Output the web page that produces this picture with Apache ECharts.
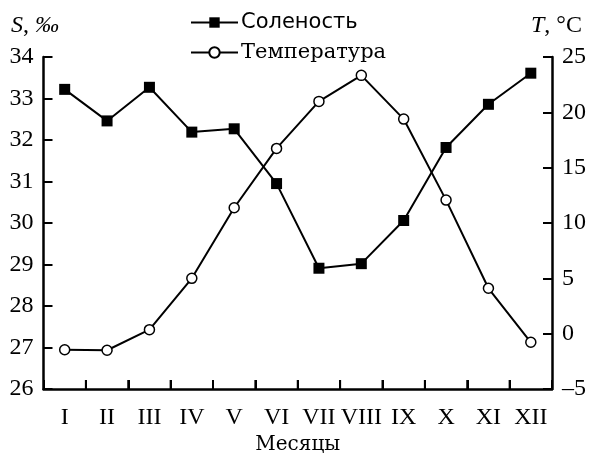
<!DOCTYPE html>
<html>
<head>
<meta charset="utf-8">
<script src="https://cdn.jsdelivr.net/npm/echarts@6/dist/echarts.min.js"></script>
<style>html,body{margin:0;padding:0;background:#fff}#c{width:594px;height:454px}</style>
</head>
<body>
<div id="c"></div>
<script>
const months = ['I','II','III','IV','V','VI','VII','VIII','IX','X','XI','XII'];
const salinity = [33.22, 32.46, 33.27, 32.19, 32.27, 30.95, 28.91, 29.02, 30.06, 31.82, 32.86, 33.61];
const temperature = [-1.45, -1.5, 0.36, 5.0, 11.38, 16.74, 20.99, 23.34, 19.39, 12.07, 4.1, -0.78];
const seriesNames = ['Соленость', 'Температура'];
const xTitle = 'Месяцы';

const serif = 'Liberation Serif';
const chart = echarts.init(document.getElementById('c'), null, {renderer: 'canvas'});
const titles = [
  {id: 'tS', type: 'text', left: 11, top: 14, style: {
    text: '{i|S}, {i|‰}', fill: '#000',
    rich: {i: {fontFamily: serif, fontStyle: 'italic', fontSize: 24}},
    fontFamily: serif, fontSize: 24}},
  {id: 'tT', type: 'text', left: 531, top: 14, style: {
    text: '{i|T}, °C', fill: '#000',
    rich: {i: {fontFamily: serif, fontStyle: 'italic', fontSize: 24}},
    fontFamily: serif, fontSize: 24}}
];
chart.setOption({
  animation: false,
  backgroundColor: '#fff',
  grid: {left: 43.5, right: 42, top: 57, bottom: 65, containLabel: false, outerBoundsMode: 'none'},
  legend: {
    orient: 'vertical', left: 185, top: 7, itemGap: 9,
    itemWidth: 47, itemHeight: 13,
    data: [
      {name: seriesNames[0], textStyle: {fontFamily: 'DejaVu Sans', fontSize: 21, color: '#000'}},
      {name: seriesNames[1], textStyle: {fontFamily: 'DejaVu Serif', fontSize: 21, color: '#000'}}
    ],
    textStyle: {color: '#000', padding: [0,0,0,-2]}
  },
  xAxis: [
    {
      type: 'category', data: months, boundaryGap: true, position: 'bottom',
      name: xTitle, nameLocation: 'middle', nameGap: 42,
      nameTextStyle: {fontFamily: 'DejaVu Serif', fontSize: 20, color: '#000'},
      axisLine: {show: true, onZero: false, lineStyle: {color: '#000', width: 2.5}},
      axisTick: {show: true, inside: true, length: 9, interval: 0, lineStyle: {color: '#000', width: 2}},
      axisLabel: {fontFamily: serif, fontSize: 24, color: '#000', margin: 17, interval: 0},
      splitLine: {show: false}
    },
    {
      type: 'value', min: 0, max: months.length, interval: 1, position: 'bottom',
      axisLine: {show: false, onZero: false},
      axisTick: {show: false},
      axisLabel: {show: false},
      splitLine: {show: false}
    }
  ],
  yAxis: [
    {
      type: 'value', min: 26, max: 34, interval: 1, position: 'left',
      axisLine: {show: true, lineStyle: {color: '#000', width: 2.5}},
      axisTick: {show: true, inside: true, length: 9, lineStyle: {color: '#000', width: 2}},
      axisLabel: {fontFamily: serif, fontSize: 24, color: '#000', margin: 10},
      splitLine: {show: false}
    },
    {
      type: 'value', min: -5, max: 25, interval: 5, position: 'right',
      axisLine: {show: true, lineStyle: {color: '#000', width: 2.5}},
      axisTick: {show: true, inside: true, length: 9, lineStyle: {color: '#000', width: 2}},
      axisLabel: {fontFamily: serif, fontSize: 24, color: '#000', margin: 10,
        formatter: v => String(v).replace('-', '–')},
      splitLine: {show: false}
    }
  ],
  graphic: titles,
  series: [
    {
      name: seriesNames[0], type: 'line', xAxisIndex: 0, yAxisIndex: 0, data: salinity,
      symbol: 'rect', symbolSize: 11,
      lineStyle: {color: '#000', width: 2},
      itemStyle: {color: '#000'}
    },
    {
      name: seriesNames[1], type: 'line', xAxisIndex: 0, yAxisIndex: 1, data: temperature,
      symbol: 'circle', symbolSize: 10,
      lineStyle: {color: '#000', width: 2},
      itemStyle: {color: '#fff', borderColor: '#000', borderWidth: 1.5}
    }
  ]
});
// month boundary ticks, positioned through the library's own scale
const tickEls = [];
const yBase = chart.convertToPixel({yAxisIndex: 0}, 26);
for (let i = 1; i < months.length; i++) {
  const x = chart.convertToPixel({xAxisIndex: 1}, i);
  tickEls.push({id: 'xt' + i, type: 'line', z: 10,
    shape: {x1: x, y1: yBase, x2: x, y2: yBase - 9},
    style: {stroke: '#000', lineWidth: 2}});
}
chart.setOption({graphic: titles.concat(tickEls)});
</script>
</body>
</html>
